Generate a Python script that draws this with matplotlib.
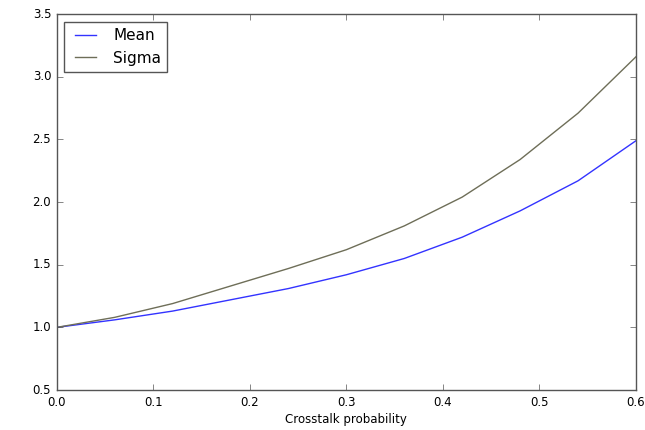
import matplotlib
matplotlib.use("Agg")
import matplotlib.pyplot as plt

# crosstalk probability sweep and resulting spread statistics
p = [0.0, 0.06, 0.12, 0.18, 0.24, 0.30, 0.36, 0.42, 0.48, 0.54, 0.60]
mean = [1.0, 1.06, 1.13, 1.22, 1.31, 1.42, 1.55, 1.72, 1.93, 2.17, 2.49]
sigma = [1.0, 1.08, 1.19, 1.33, 1.47, 1.62, 1.81, 2.04, 2.34, 2.71, 3.16]

plt.style.use("classic")
fig = plt.figure(figsize=(6.45, 4.3), dpi=100, facecolor="white")
ax = fig.add_axes([0.088, 0.093, 0.898, 0.874])

ax.plot(p, mean, color="#3333ff", lw=1.0, label="Mean")
ax.plot(p, sigma, color="#6e6e58", lw=1.0, label="Sigma")

ax.set_xlim(0, 0.6)
ax.set_ylim(0.5, 3.5)
for s in ax.spines.values():
    s.set_color("#555555")
ax.tick_params(labelsize=8.5, color="#555555")
ax.set_xlabel("Crosstalk probability", fontsize=8.5, labelpad=3)
leg = ax.legend(loc="upper left", fontsize=11)
leg.get_frame().set_edgecolor("#555555")

fig.savefig("out.png", dpi=100, facecolor="white")
